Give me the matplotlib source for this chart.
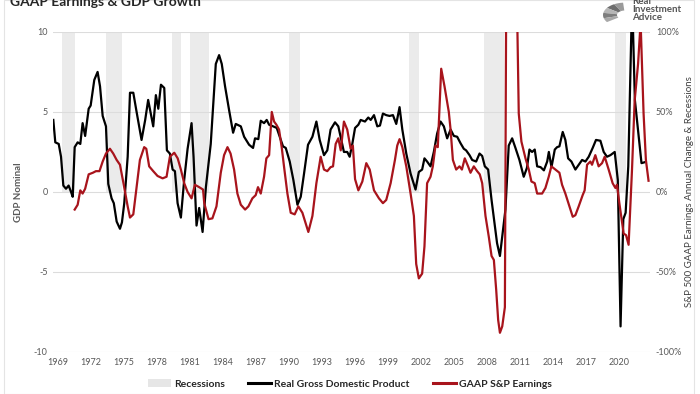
import numpy as np
import matplotlib
matplotlib.use("Agg")
import matplotlib.pyplot as plt
from matplotlib.patches import Patch, Wedge
from matplotlib.lines import Line2D

plt.rcParams['font.family'] = ['Lato', 'DejaVu Sans']

# real GDP, yoy % (left axis)
gdp_t = [1969.11, 1969.29, 1969.6, 1969.81, 1970.02, 1970.26, 1970.5, 1970.72, 1970.87,
         1971.05, 1971.32, 1971.56, 1971.77, 1972.0, 1972.32, 1972.5, 1972.83, 1973.13, 1973.35,
         1973.59, 1973.89, 1974.1, 1974.4, 1974.6, 1974.86, 1975.16, 1975.34, 1975.55, 1975.86,
         1976.07, 1976.37, 1976.67, 1977.12, 1977.45, 1977.72, 1977.96, 1978.18, 1978.42, 1978.64,
         1978.88, 1979.18, 1979.42, 1979.69, 1979.94, 1980.15, 1980.39, 1980.69, 1980.99, 1981.3,
         1981.66, 1981.84, 1982.11, 1982.35, 1982.66, 1982.96, 1983.4, 1983.86, 1984.16, 1984.4,
         1984.7, 1985.07, 1985.43, 1985.67, 1986.13, 1986.43, 1986.88, 1987.24, 1987.42, 1987.72,
         1987.94, 1988.24, 1988.48, 1988.7, 1989.06, 1989.39, 1989.66, 1989.96, 1990.21, 1990.57,
         1990.9, 1991.27, 1991.57, 1991.87, 1992.23, 1992.63, 1992.99, 1993.29, 1993.68, 1993.98,
         1994.28, 1994.68, 1994.98, 1995.28, 1995.49, 1995.79, 1996.01, 1996.25, 1996.5, 1996.8,
         1997.01, 1997.4, 1997.7, 1997.92, 1998.22, 1998.52, 1998.76, 1999.03, 1999.33, 1999.63,
         1999.94, 2000.24, 2000.54, 2000.79, 2001.15, 2001.54, 2001.99, 2002.29, 2002.59, 2002.8,
         2003.04, 2003.35, 2003.65, 2003.95, 2004.26, 2004.56, 2004.86, 2005.17, 2005.47, 2005.77,
         2006.07, 2006.37, 2006.58, 2006.89, 2007.13, 2007.49, 2007.8, 2008.04, 2008.28, 2008.58,
         2008.89, 2009.19, 2009.39, 2009.65, 2009.86, 2010.15, 2010.45, 2010.76, 2011.06, 2011.42,
         2011.81, 2012.1, 2012.33, 2012.57, 2012.81, 2013.03, 2013.34, 2013.64, 2013.94, 2014.09,
         2014.33, 2014.63, 2014.84, 2015.05, 2015.35, 2015.59, 2015.84, 2016.14, 2016.5, 2016.8,
         2017.11, 2017.41, 2017.71, 2018.07, 2018.37, 2018.77, 2019.07, 2019.37, 2019.68, 2020.07,
         2020.35, 2020.6, 2020.85, 2021.06, 2021.3, 2021.65, 2021.9, 2022.2, 2022.5, 2022.75]
gdp_v = [4.5, 3.1, 3.0, 2.2, 0.4, 0.2, 0.4, 0.0, -0.3, 2.8,
         3.1, 3.0, 4.3, 3.5, 5.2, 5.4, 7.0, 7.5, 6.6, 4.75,
         4.1, 0.5, -0.4, -0.7, -1.85, -2.3, -1.9, -0.7, 2.2, 6.2,
         6.2, 5.0, 3.25, 4.5, 5.75, 4.9, 4.1, 6.05, 5.2, 6.7,
         6.5, 2.6, 2.4, 1.4, 1.3, -0.7, -1.6, 0.75, 2.7, 4.3,
         2.2, -2.1, -1.0, -2.5, 0.3, 3.0, 8.0, 8.55, 8.0, 6.6,
         5.1, 3.7, 4.25, 4.1, 3.45, 2.95, 2.75, 3.35, 3.3, 4.45,
         4.3, 4.5, 4.2, 4.1, 4.0, 3.45, 2.85, 2.75, 1.9, 0.75,
         -0.8, -0.3, 1.15, 2.95, 3.45, 4.4, 3.25, 2.3, 2.6, 3.9,
         4.35, 4.1, 3.15, 2.5, 2.5, 2.2, 3.0, 4.0, 4.2, 4.5,
         4.4, 4.65, 4.5, 4.8, 4.1, 4.15, 4.9, 4.8, 4.75, 4.8,
         4.25, 5.3, 3.9, 2.4, 1.15, 0.15, 1.25, 1.4, 2.1, 1.9,
         1.6, 2.5, 3.65, 4.4, 4.1, 3.35, 3.9, 3.5, 3.45, 3.05,
         2.7, 2.6, 2.3, 2.0, 1.9, 2.4, 2.25, 1.6, 1.4, -0.5,
         -2.1, -3.2, -4.0, -2.8, -1.1, 2.9, 3.35, 2.75, 2.0, 0.95,
         1.5, 2.65, 2.5, 2.65, 1.6, 1.55, 1.35, 1.9, 2.5, 1.55,
         2.65, 2.8, 2.85, 3.75, 3.25, 2.1, 1.9, 1.4, 1.7, 2.0,
         1.9, 2.2, 2.75, 3.25, 3.2, 2.5, 2.2, 2.3, 2.5, 0.75,
         -8.4, -1.7, -1.3, 1.6, 12.2, 5.75, 3.8, 1.8, 1.85]

# GAAP S&P 500 earnings, yoy % (right axis)
eps_t = [1971.05, 1971.32, 1971.56, 1971.77, 1972.0, 1972.32, 1972.7, 1972.98, 1973.3, 1973.59,
         1973.89, 1974.25, 1974.55, 1974.86, 1975.16, 1975.45, 1975.86, 1976.07, 1976.37, 1976.67,
         1976.97, 1977.36, 1977.55, 1977.81, 1978.18, 1978.57, 1979.03, 1979.39, 1979.69, 1980.09,
         1980.4, 1980.69, 1980.99, 1981.3, 1981.66, 1981.96, 1982.35, 1982.7, 1982.81, 1983.2,
         1983.55, 1983.92, 1984.31, 1984.61, 1984.92, 1985.2, 1985.52, 1985.82, 1986.13, 1986.52,
         1986.82, 1987.18, 1987.48, 1987.69, 1987.94, 1988.24, 1988.45, 1988.7, 1988.94, 1989.15,
         1989.36, 1989.6, 1989.84, 1990.05, 1990.36, 1990.66, 1991.02, 1991.35, 1991.72, 1992.26,
         1992.63, 1992.99, 1993.38, 1993.68, 1993.98, 1994.28, 1994.5, 1994.74, 1994.98, 1995.2,
         1995.49, 1995.79, 1996.1, 1996.3, 1996.5, 1996.8, 1997.16, 1997.52, 1997.83, 1998.22,
         1998.67, 1999.03, 1999.33, 1999.73, 2000.12, 2000.33, 2000.54, 2000.79, 2001.15, 2001.54,
         2001.84, 2002.05, 2002.29, 2002.59, 2002.8, 2003.04, 2003.35, 2003.56, 2003.8, 2004.01,
         2004.32, 2004.62, 2005.01, 2005.17, 2005.38, 2005.68, 2005.98, 2006.2, 2006.46, 2006.76,
         2006.98, 2007.28, 2007.58, 2007.82, 2008.04, 2008.34, 2008.64, 2008.89, 2009.1, 2009.31,
         2009.49, 2009.65, 2009.86, 2010.1, 2010.3, 2010.55, 2010.8, 2011.1, 2011.36, 2011.6,
         2011.97, 2012.27, 2012.51, 2012.81, 2013.03, 2013.48, 2013.78, 2014.08, 2014.32, 2014.69,
         2015.05, 2015.29, 2015.59, 2015.96, 2016.26, 2016.5, 2016.8, 2017.16, 2017.34, 2017.56,
         2017.86, 2018.01, 2018.31, 2018.61, 2018.92, 2019.16, 2019.52, 2019.88, 2020.13, 2020.28,
         2020.49, 2020.88, 2021.1, 2021.33, 2021.64, 2021.88, 2022.19, 2022.42, 2022.69, 2022.9,
         2023.14]
eps_v = [-11, -8, 1, -1, 2, 11, 12, 13, 13, 19,
         24, 27, 24, 20, 17, 6.5, -9, -16, -14, 3,
         20, 28, 27, 16, 13, 10, 8.5, 9.5, 22, 24.5,
         21, 14, 5.5, 0, -4, 4.5, 3, 1.5, -7, -17,
         -16.5, -9, 12, 23, 28, 24, 14, -1, -8, -11,
         -9, -4, -2, 3, -1, 9.5, 21, 23, 50, 44,
         42, 39, 28, 16, -1, -13, -14, -9, -13, -25,
         -15, 5.5, 22, 14, 13, 15.5, 16, 30, 33.5, 26,
         44, 39, 27, 29, 8, 1, 6.5, 18, 14, 1,
         -4, -7, -5, 5.5, 20, 29, 33, 28, 16, -1,
         -15, -45, -54, -51, -34, 5.5, 9.5, 16, 29, 28,
         77, 66, 50, 39, 20, 14, 16, 14, 21, 16,
         12, 16, 13, 11, 5.5, -15, -28, -40, -42.5, -61,
         -80, -88, -84, -72, 250, 300, 280, 160, 49, 31.5,
         21, 14, 6.5, 5.5, -1, -1, 2.5, 9.5, 16, 14,
         12, 4.5, -1, -9, -15.5, -14.5, -9, -2, 1, 17,
         19, 17, 23, 16, 18, 22, 14, 5.5, 2.5, 4.5,
         -7, -26, -27, -33, 14, 57, 80, 106, 49, 20,
         7]

# recession bars (plotted at 100% on the right scale)
rec_start = [1969.9, 1973.9, 1979.87, 1981.5, 1990.5, 2001.4, 2008.2, 2020.1]
rec_end = [1971.1, 1975.34, 1980.69, 1983.2, 1991.48, 2002.3, 2010.0, 2021.1]

tick_years = list(range(1969, 2021, 3))

W, H = 700, 394
fig = plt.figure(figsize=(7, 3.94), dpi=100)
ax = fig.add_axes([0.076, 0.1066, 0.853, 0.8124])
ax2 = ax.twinx()

grey_txt = '#595959'
for s, e in zip(rec_start, rec_end):
    ax.bar(s, 10, width=e - s, bottom=0, align='edge', color='#ebebeb', zorder=0, linewidth=0)

for yv in [-10, -5, 0, 5, 10]:
    ax.axhline(yv, color='#dcdcdc', lw=0.8, zorder=0.5)

ax.plot(gdp_t, gdp_v, color='black', lw=1.6, zorder=2)
ax2.plot(eps_t, eps_v, color='#a8141c', lw=1.6, zorder=3)

ax.set_xlim(1969.1, 2023.3)
ax.set_ylim(-10, 10)
ax2.set_ylim(-100, 100)
ax.set_yticks([-10, -5, 0, 5, 10])
ax.set_yticklabels(['-10', '-5', '0', '5', '10'], fontsize=6.5, color=grey_txt)
ax2.set_yticks([-100, -50, 0, 50, 100])
ax2.set_yticklabels(['-100%', '-50%', '0%', '50%', '100%'], fontsize=6.5, color=grey_txt)
ax.set_xticks([y + 0.5 for y in tick_years])
ax.set_xticklabels([str(y) for y in tick_years], fontsize=6.5, color=grey_txt)

for a in (ax, ax2):
    for sp in a.spines.values():
        sp.set_visible(False)
    a.tick_params(length=0, pad=4)

ax.set_ylabel('GDP Nominal', fontsize=7, fontweight='bold', color=grey_txt, labelpad=8)
ax2.set_ylabel('S&P 500 GAAP Earnings Annual Change & Recessions', fontsize=7,
               color='#404040', labelpad=2)

# title, partly cut by the top edge as in the source image
fig.text(10 / W, 1 - 6 / H, 'GAAP Earnings & GDP Growth', fontsize=10, fontweight='bold',
         color='#262626', va='baseline', ha='left')

# logo text and a rough grey feather mark
for txt, base in [('Real', 4), ('Investment', 12), ('Advice', 20)]:
    fig.text(632 / W, 1 - base / H, txt, fontsize=7, fontweight='bold',
             color='#555555', va='baseline', ha='left')
for i, (a0, a1) in enumerate([(95, 120), (120, 145), (145, 170), (170, 195), (195, 215)]):
    shade = ['#9a9a9a', '#6e6e6e', '#b5b5b5', '#7d7d7d', '#a8a8a8'][i]
    fig.patches.append(Wedge((625 / W, 1 - 15 / H), 22 / W, a0, a1, width=14 / W,
                             transform=fig.transFigure, facecolor=shade, edgecolor='none'))

handles = [Patch(facecolor='#e6e6e6', edgecolor='none'),
           Line2D([0], [0], color='black', lw=2.2),
           Line2D([0], [0], color='#a8141c', lw=2.2)]
labels = ['Recessions', 'Real Gross Domestic Product', 'GAAP S&P Earnings']
fig.legend(handles, labels, loc='lower center', bbox_to_anchor=(0.5, -0.01), ncol=3,
           frameon=False, prop={'size': 7.5, 'weight': 'bold'}, labelcolor='#262626',
           handlelength=2.2, handletextpad=0.3, columnspacing=2.2)

border = plt.Rectangle((0.006, 0.0), 0.985, 1.0, transform=fig.transFigure,
                       fill=False, edgecolor='#e4e4e4', lw=0.8)
fig.patches.append(border)

fig.savefig('out.png', dpi=100)
